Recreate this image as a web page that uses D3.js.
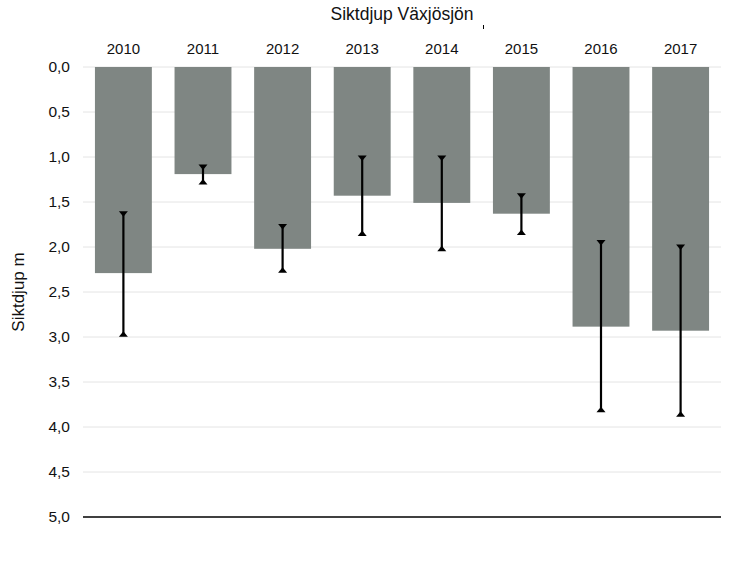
<!DOCTYPE html>
<html>
<head>
<meta charset="utf-8">
<script src="https://cdn.jsdelivr.net/npm/d3@7"></script>
<style>
  body { margin: 0; background: #fff; }
  svg { display: block; font-family: "Liberation Sans", Arial, sans-serif; }
</style>
</head>
<body>
<svg id="chart" width="742" height="563"></svg>
<script>
"use strict";

// ── Data ─────────────────────────────────────────────────────────────────────
const years = ["2010", "2011", "2012", "2013", "2014", "2015", "2016", "2017"];
const depth = [2.29, 1.19, 2.02, 1.43, 1.51, 1.63, 2.885, 2.93];
const errLow = [1.62, 1.10, 1.76, 1.00, 1.00, 1.42, 1.94, 1.99];
const errHigh = [2.98, 1.29, 2.27, 1.86, 2.03, 1.85, 3.82, 3.87];
const yTicks = [0, 0.5, 1, 1.5, 2, 2.5, 3, 3.5, 4, 4.5, 5];

const rows = years.map((y, i) => ({ year: y, v: depth[i], lo: errLow[i], hi: errHigh[i] }));

// ── Layout ───────────────────────────────────────────────────────────────────
const svg = d3.select("#chart");
const plotL = 83, plotR = 721, plotT = 67, plotB = 517;

const x = d3.scaleBand().domain(years).range([plotL, plotR]).paddingInner(0.285).paddingOuter(0.15);
const y = d3.scaleLinear().domain([0, 5]).range([plotT, plotB]);
const fmt = v => d3.format(".1f")(v).replace(".", ",");

// gridlines
svg.append("g").selectAll("line")
  .data(yTicks.slice(0, -1))
  .join("line")
  .attr("x1", plotL).attr("x2", plotR)
  .attr("y1", d => y(d)).attr("y2", d => y(d))
  .attr("stroke", "#e4e4e4").attr("stroke-width", 1);

// y tick labels
svg.append("g").selectAll("text")
  .data(yTicks)
  .join("text")
  .attr("x", 70).attr("y", d => y(d))
  .attr("dy", "0.35em")
  .attr("text-anchor", "end")
  .attr("font-size", 15.5)
  .attr("fill", "#111")
  .text(fmt);

// bars
svg.append("g").selectAll("rect")
  .data(rows)
  .join("rect")
  .attr("x", d => x(d.year))
  .attr("y", y(0))
  .attr("width", x.bandwidth())
  .attr("height", d => y(d.v) - y(0))
  .attr("fill", "#7f8683");

// bottom axis line at 5,0
svg.append("line")
  .attr("x1", plotL).attr("x2", plotR)
  .attr("y1", y(5)).attr("y2", y(5))
  .attr("stroke", "#000").attr("stroke-width", 1.3);

// error bars
const eb = svg.append("g").selectAll("g")
  .data(rows)
  .join("g")
  .attr("transform", d => `translate(${x(d.year) + x.bandwidth() / 2},0)`);

eb.append("line")
  .attr("y1", d => y(d.lo)).attr("y2", d => y(d.hi))
  .attr("stroke", "#000").attr("stroke-width", 2.2);

// caps: small triangles
eb.append("path")
  .attr("d", d => `M-4.5,${y(d.lo) - 1.5} L4.5,${y(d.lo) - 1.5} L0,${y(d.lo) + 4} Z`)
  .attr("fill", "#000");
eb.append("path")
  .attr("d", d => `M-4.5,${y(d.hi) + 1.5} L4.5,${y(d.hi) + 1.5} L0,${y(d.hi) - 4} Z`)
  .attr("fill", "#000");

// year labels
svg.append("g").selectAll("text")
  .data(years)
  .join("text")
  .attr("x", d => x(d) + x.bandwidth() / 2)
  .attr("y", 54)
  .attr("text-anchor", "middle")
  .attr("font-size", 15)
  .attr("fill", "#111")
  .text(d => d);

// title
svg.append("text")
  .attr("x", 402).attr("y", 20)
  .attr("text-anchor", "middle")
  .attr("font-size", 17.5)
  .attr("fill", "#111")
  .text("Siktdjup Växjösjön");

// stray tick mark next to title
svg.append("line")
  .attr("x1", 483.5).attr("x2", 483.5)
  .attr("y1", 25).attr("y2", 29)
  .attr("stroke", "#000").attr("stroke-width", 1);

// y axis title
svg.append("text")
  .attr("transform", "translate(24,292) rotate(-90)")
  .attr("text-anchor", "middle")
  .attr("font-size", 17)
  .attr("fill", "#111")
  .text("Siktdjup m");
</script>
</body>
</html>
